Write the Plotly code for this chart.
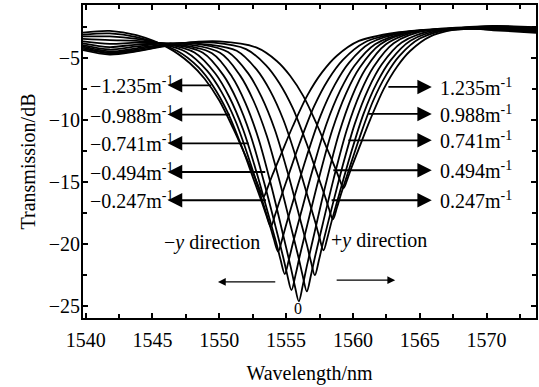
import plotly.graph_objects as go

# ---- transmission spectra of the grating under different curvatures ----
curv_labels = ["-1.235", "-0.988", "-0.741", "-0.494", "-0.247", "0",
               "0.247", "0.494", "0.741", "0.988", "1.235"]

wl_n1235 = [1539.8, 1541.8, 1543.8, 1546.15, 1547.8, 1548.9, 1550.0, 1551.1, 1551.98, 1552.64, 1552.97, 1553.3,
            1553.63, 1553.96, 1554.62, 1555.5, 1556.6, 1557.7, 1558.8, 1560.45, 1563.2, 1567.0, 1570.5, 1573.7]
tr_n1235 = [-3.0, -2.85, -3.2, -4.2, -5.45, -6.7, -8.45, -10.83, -12.95, -14.58, -15.45, -16.2,
            -15.41, -14.48, -12.77, -10.52, -8.02, -6.17, -4.85, -3.66, -3.0, -2.65, -2.45, -2.55]

wl_n0988 = [1539.8, 1541.8, 1543.8, 1546.83, 1548.45, 1549.53, 1550.61, 1551.69, 1552.55, 1553.2, 1553.53, 1553.85,
            1554.17, 1554.5, 1555.15, 1556.01, 1557.09, 1558.17, 1559.25, 1560.87, 1563.57, 1567.0, 1570.5, 1573.7]
tr_n0988 = [-3.15, -3.05, -3.35, -4.45, -5.79, -7.28, -9.36, -12.19, -14.73, -16.66, -17.71, -18.6,
            -17.66, -16.57, -14.54, -11.89, -8.93, -6.74, -5.18, -3.78, -3.0, -2.7, -2.5, -2.6]

wl_n0741 = [1539.8, 1541.8, 1543.8, 1545.7, 1547.51, 1549.1, 1550.16, 1551.22, 1552.28, 1553.13, 1553.76, 1554.08, 1554.4,
            1554.72, 1555.04, 1555.67, 1556.52, 1557.58, 1558.64, 1559.7, 1561.29, 1563.94, 1567.0, 1570.5, 1573.7]
tr_n0741 = [-3.3, -3.3, -3.5, -3.9, -4.55, -6.07, -7.76, -10.12, -13.33, -16.21, -18.4, -19.59, -20.6,
            -19.54, -18.31, -16.01, -13.01, -9.66, -7.19, -5.42, -3.83, -2.95, -2.7, -2.5, -2.65]

wl_n0494 = [1539.8, 1541.8, 1543.8, 1546.0, 1548.14, 1549.7, 1550.74, 1551.78, 1552.82, 1553.65, 1554.28, 1554.59, 1554.9,
            1555.21, 1555.52, 1556.15, 1556.98, 1558.02, 1559.06, 1560.1, 1561.66, 1564.26, 1567.0, 1570.5, 1573.7]
tr_n0494 = [-3.5, -3.6, -3.65, -3.9, -4.59, -6.28, -8.15, -10.78, -14.34, -17.53, -19.96, -21.28, -22.4,
            -21.23, -19.87, -17.34, -14.04, -10.34, -7.62, -5.67, -3.92, -2.95, -2.75, -2.55, -2.7]

wl_n0247 = [1539.8, 1541.8, 1543.8, 1546.2, 1548.77, 1550.3, 1551.32, 1552.34, 1553.36, 1554.18, 1554.79, 1555.09, 1555.4,
            1555.71, 1556.01, 1556.62, 1557.44, 1558.46, 1559.48, 1560.5, 1562.03, 1564.58, 1567.0, 1570.5, 1573.7]
tr_n0247 = [-3.7, -3.9, -3.8, -3.9, -4.61, -6.41, -8.42, -11.24, -15.06, -18.47, -21.09, -22.49, -23.7,
            -22.45, -21.0, -18.29, -14.76, -10.8, -7.89, -5.81, -3.94, -2.9, -2.75, -2.6, -2.7]

wl_zero = [1539.8, 1541.8, 1543.8, 1546.4, 1549.45, 1550.95, 1551.95, 1552.95, 1553.95, 1554.75, 1555.35, 1555.65, 1555.95,
           1556.25, 1556.55, 1557.15, 1557.95, 1558.95, 1559.95, 1560.95, 1562.45, 1564.95, 1567.0, 1570.5, 1573.7]
tr_zero = [-3.85, -4.15, -3.95, -3.9, -4.65, -6.54, -8.64, -11.58, -15.57, -19.14, -21.87, -23.34, -24.6,
           -23.3, -21.77, -18.95, -15.25, -11.12, -8.07, -5.9, -3.94, -2.85, -2.8, -2.6, -2.75]

wl_p0247 = [1539.8, 1541.8, 1543.8, 1546.6, 1550.05, 1551.55, 1552.55, 1553.55, 1554.55, 1555.35, 1555.95, 1556.25, 1556.55,
            1556.85, 1557.15, 1557.75, 1558.55, 1559.55, 1560.55, 1561.55, 1563.05, 1565.55, 1570.5, 1573.7]
tr_p0247 = [-4.0, -4.35, -4.1, -3.85, -4.61, -6.43, -8.45, -11.28, -15.11, -18.55, -21.17, -22.59, -23.8,
            -22.54, -21.07, -18.34, -14.77, -10.78, -7.84, -5.74, -3.85, -2.8, -2.65, -2.8]

wl_p0494 = [1539.8, 1541.8, 1543.8, 1546.7, 1548.7, 1550.65, 1552.15, 1553.15, 1554.15, 1555.15, 1555.95, 1556.55, 1556.85, 1557.15,
            1557.45, 1557.75, 1558.35, 1559.15, 1560.15, 1561.15, 1562.15, 1563.65, 1566.15, 1570.5, 1573.7]
tr_p0494 = [-4.1, -4.5, -4.25, -3.85, -3.95, -4.55, -6.25, -8.14, -10.78, -14.37, -17.59, -20.04, -21.37, -22.5,
            -21.32, -19.94, -17.38, -14.03, -10.29, -7.53, -5.56, -3.79, -2.8, -2.7, -2.85]

wl_p0741 = [1539.8, 1541.8, 1543.8, 1546.8, 1549.2, 1551.3, 1552.8, 1553.8, 1554.8, 1555.8, 1556.6, 1557.2, 1557.5, 1557.8,
            1558.1, 1558.4, 1559.0, 1559.8, 1560.8, 1561.8, 1562.8, 1564.3, 1566.8, 1570.5, 1573.7]
tr_p0741 = [-4.2, -4.6, -4.35, -3.85, -3.95, -4.45, -5.97, -7.66, -10.02, -13.23, -16.11, -18.3, -19.49, -20.5,
            -19.44, -18.19, -15.89, -12.87, -9.5, -7.01, -5.24, -3.64, -2.75, -2.7, -2.9]

wl_p0988 = [1539.8, 1541.8, 1543.8, 1547.0, 1549.6, 1552.0, 1553.5, 1554.5, 1555.5, 1556.5, 1557.3, 1557.9, 1558.2, 1558.5,
            1558.8, 1559.1, 1559.7, 1560.5, 1561.5, 1562.5, 1563.5, 1565.0, 1567.5, 1570.5, 1573.7]
tr_p0988 = [-4.3, -4.65, -4.45, -3.85, -3.8, -4.32, -5.62, -7.06, -9.07, -11.81, -14.26, -16.13, -17.14, -18.0,
            -17.08, -16.01, -14.02, -11.42, -8.51, -6.37, -4.84, -3.47, -2.7, -2.75, -2.95]

wl_p1235 = [1539.8, 1541.8, 1543.8, 1547.2, 1550.0, 1552.8, 1554.3, 1555.3, 1556.3, 1557.3, 1558.1, 1558.7, 1559.0, 1559.3,
            1559.6, 1559.9, 1560.5, 1561.3, 1562.3, 1563.3, 1564.3, 1565.8, 1568.3, 1570.5, 1573.7]
tr_p1235 = [-4.4, -4.75, -4.5, -3.85, -3.7, -4.2, -5.27, -6.46, -8.12, -10.38, -12.41, -13.95, -14.79, -15.5,
            -14.73, -13.83, -12.16, -9.97, -7.53, -5.73, -4.45, -3.29, -2.65, -2.8, -3.0]

spectra = [(wl_n1235, tr_n1235), (wl_n0988, tr_n0988), (wl_n0741, tr_n0741), (wl_n0494, tr_n0494),
           (wl_n0247, tr_n0247), (wl_zero, tr_zero), (wl_p0247, tr_p0247), (wl_p0494, tr_p0494),
           (wl_p0741, tr_p0741), (wl_p0988, tr_p0988), (wl_p1235, tr_p1235)]

# ---- curvature call-outs: label, arrow level (dB), point on the spectrum (nm) ----
left_labels = ["\u22121.235", "\u22120.988", "\u22120.741", "\u22120.494", "\u22120.247"]
left_levels = [-7.23, -9.58, -11.89, -14.2, -16.47]
left_tails = [1549.5, 1550.9, 1552.3, 1553.55, 1553.6]
left_head = 1546.15
left_text_x = 1540.2

right_labels = ["1.235", "0.988", "0.741", "0.494", "0.247"]
right_levels = [-7.36, -9.53, -11.65, -14.06, -16.47]
right_tails = [1562.54, 1561.04, 1559.54, 1558.42, 1558.29]
right_head = 1565.9
right_text_x = 1566.4

FONT = "Liberation Serif"

fig = go.Figure()
for wl, tr in spectra:
    fig.add_trace(go.Scatter(
        x=wl, y=tr, mode="lines", showlegend=False, hoverinfo="skip",
        line=dict(color="black", width=1.8, shape="spline", smoothing=0.9)))

def arrow(x_head, x_tail, yv, width=1.8, size=1.6):
    fig.add_annotation(x=x_head, y=yv, ax=x_tail, ay=yv, xref="x", yref="y",
                       axref="x", ayref="y", text="", showarrow=True,
                       arrowhead=2, arrowsize=size, arrowwidth=width,
                       arrowcolor="black", standoff=0, startstandoff=0)

def label(x, yv, txt, anchor="left", size=20):
    fig.add_annotation(x=x, y=yv, xref="x", yref="y", text=txt, showarrow=False,
                       xanchor=anchor, yanchor="middle",
                       font=dict(family=FONT, size=size, color="black"))

for lab, yv, tail in zip(left_labels, left_levels, left_tails):
    arrow(left_head, tail, yv)
    label(left_text_x, yv, lab + "m<sup>-1</sup>")

for lab, yv, tail in zip(right_labels, right_levels, right_tails):
    arrow(right_head, tail, yv)
    label(right_text_x, yv, lab + "m<sup>-1</sup>")

# shift direction marks
label(1549.45, -19.9, "\u2212<i>y</i> direction", anchor="center")
label(1561.96, -19.7, "+<i>y</i> direction", anchor="center")
arrow(1549.9, 1554.3, -23.04, width=1.2, size=1.3)
arrow(1563.16, 1558.67, -22.9, width=1.2, size=1.3)
label(1555.92, -25.2, "0", anchor="center", size=16)

axis_style = dict(showline=True, linecolor="black", linewidth=2, mirror="allticks",
                  ticks="inside", ticklen=5, tickwidth=1.5, tickcolor="black",
                  showgrid=False, zeroline=False,
                  tickfont=dict(family=FONT, size=20, color="black"))

fig.update_xaxes(range=[1539.8, 1573.7], tick0=1540, dtick=5, ticklabelstandoff=3,
                 minor=dict(ticks="inside", dtick=2.5, ticklen=4, tickwidth=1.5, tickcolor="black"),
                 title=dict(text="Wavelength/nm", standoff=16,
                            font=dict(family=FONT, size=20, color="black")),
                 **axis_style)
fig.update_yaxes(range=[-25.94, -0.77], tick0=0, dtick=5, ticklabelstandoff=-3,
                 minor=dict(ticks="inside", dtick=2.5, ticklen=4, tickwidth=1.5, tickcolor="black"),
                 title=dict(text="Transmission/dB", standoff=8,
                            font=dict(family=FONT, size=20, color="black")),
                 **axis_style)

fig.update_layout(width=539, height=387, margin=dict(l=83, r=1, t=5, b=69),
                  paper_bgcolor="white", plot_bgcolor="white")

fig.write_html("out.html")
